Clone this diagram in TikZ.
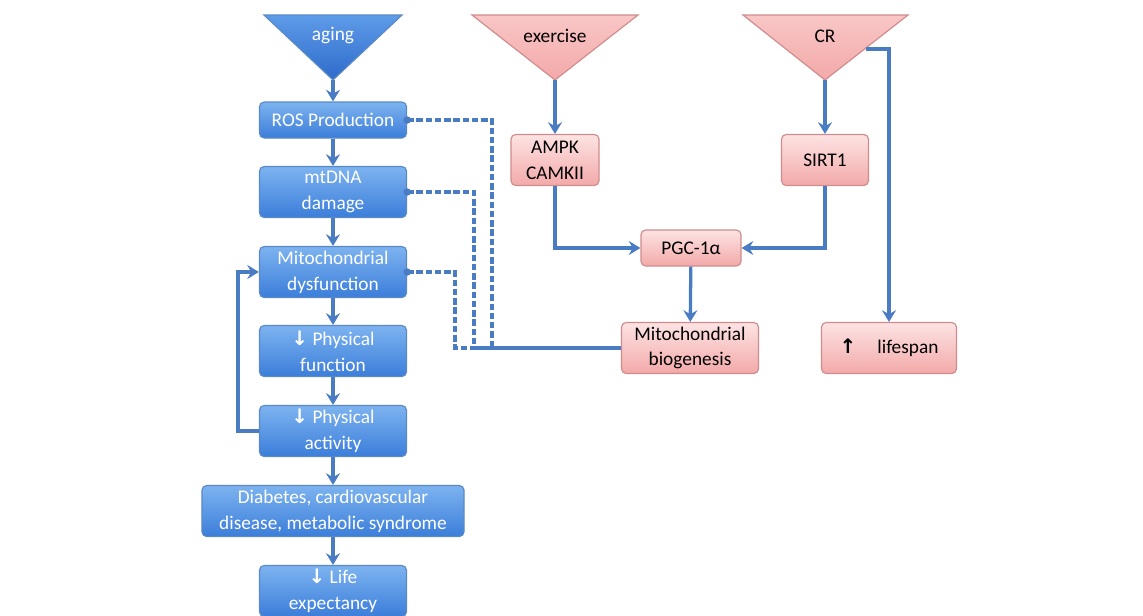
\documentclass[tikz,border=0pt]{standalone}
\usepackage{fontspec}
\setmainfont{Carlito}
\newfontfamily\arrowfont{DejaVu Sans}
\usetikzlibrary{arrows.meta}

\definecolor{bluetop}{HTML}{7DB3EF}
\definecolor{bluebot}{HTML}{3B7DDA}
\definecolor{blueline}{HTML}{5A8AC6}
\definecolor{tritop}{HTML}{5E9BE8}
\definecolor{tribot}{HTML}{2E6BCB}
\definecolor{pinktop}{HTML}{FDE3E3}
\definecolor{pinkbot}{HTML}{F3A9A9}
\definecolor{pinktri}{HTML}{F9C6C6}
\definecolor{pinkline}{HTML}{D08C8C}
\definecolor{linkblue}{HTML}{4A7CC4}

\newcommand{\dnarrow}{{\arrowfont\bfseries\fontsize{17}{22}\selectfont ↓}}
\newcommand{\uparr}{{\arrowfont\bfseries\fontsize{17}{22}\selectfont ↑}}

\begin{document}
\begin{tikzpicture}[x=0.03cm,y=-0.03cm,
    link/.style={draw=linkblue, line width=2.8pt, -{Stealth[length=10pt,width=12pt,inset=3.5pt]}},
    feed/.style={draw=linkblue, line width=2.6pt, dash pattern=on 5.5pt off 2.4pt},
    boxtext/.style={font=\fontsize{16.5}{22}\selectfont}]

        \useasboundingbox (0,0) rectangle (1143,616);

        % triangles
        \coordinate (agingtip) at (333,80);
        \coordinate (extip)    at (555,80);
        \coordinate (crtip)    at (825,80);
        \coordinate (crside)   at (866,49);

        \path[draw=blueline, line width=1pt, top color=tritop, bottom color=tribot]
          (264,15) -- (402,15) -- (agingtip) -- cycle;
        \path[draw=pinkline, line width=1pt, top color=pinktri, bottom color=pinkbot]
          (472,15) -- (638,15) -- (extip) -- cycle;
        \path[draw=pinkline, line width=1pt, top color=pinktri, bottom color=pinkbot]
          (743,15) -- (908,15) -- (crtip) -- cycle;

        \node[boxtext, text=white] (aging)    at (333,36) {aging};
        \node[boxtext]             (exercise) at (555,36) {exercise};
        \node[boxtext]             (cr)       at (825,36) {CR};

        \begin{scope}[every node/.style={rectangle, rounded corners=4pt, draw=blueline,
            line width=1pt, top color=bluetop, bottom color=bluebot, text=white, align=center,
            minimum width=4.41cm, minimum height=1.53cm, inner sep=1pt, boxtext}]
          \node (ros)   at (333,120) [minimum height=1.08cm] {ROS Production};
          \node (mtdna) at (333,192) {mtDNA\\damage};
          \node (dysf)  at (333,272) {Mitochondrial\\dysfunction};
          \node (func)  at (333,351) {\dnarrow{} Physical\\function};
          \node (act)   at (333,431) {\dnarrow{} Physical\\activity};
          \node (dis)   at (333,511) [minimum width=7.86cm] {Diabetes, cardiovascular\\disease, metabolic syndrome};
          \node (life)  at (333,591) {\dnarrow{} Life\\expectancy};
        \end{scope}

        \begin{scope}[every node/.style={rectangle, rounded corners=4pt, draw=pinkline,
            line width=1pt, top color=pinktop, bottom color=pinkbot, text=black, align=center,
            minimum height=1.53cm, inner sep=1pt, boxtext}]
          \node (ampk) at (555,160) [minimum width=2.64cm] {AMPK\\CAMKII};
          \node (sirt) at (825,160) [minimum width=2.61cm] {SIRT1};
          \node (pgc)  at (691,248) [minimum width=3.0cm, minimum height=1.08cm] {PGC-1α};
          \node (bio)  at (690,348) [minimum width=4.11cm] {Mitochondrial\\biogenesis};
          \node (span) at (889,348) [minimum width=4.05cm] {\uparr\hspace{1.1em}lifespan};
        \end{scope}

        % aging cascade
        \draw[link] (agingtip) -- (ros);
        \draw[link] (ros) -- (mtdna);
        \draw[link] (mtdna) -- (dysf);
        \draw[link] (dysf) -- (func);
        \draw[link] (func) -- (act);
        \draw[link] (act) -- (dis);
        \draw[link] (dis) -- (life);
        \draw[link] (act.west) -- ++(-21,0) |- (dysf.west);

        % exercise and CR
        \draw[link] (extip) -- (ampk);
        \draw[link] (ampk.south) |- (pgc.west);
        \draw[link] (crtip) -- (sirt);
        \draw[link] (sirt.south) |- (pgc.east);
        \draw[link] (pgc) -- (bio);
        \draw[link] (crside) -| (span.north);

        % dashed links to biogenesis
        \coordinate (d1) at (492,0);
        \coordinate (d2) at (474,0);
        \coordinate (d3) at (455,0);
        \draw[feed] (ros.east) -| (d1 |- bio.west) -- (bio.west);
        \draw[feed] (mtdna.east) -| (d2 |- bio.west) -- (bio.west);
        \draw[feed] (dysf.east) -| (d3 |- bio.west) -- (bio.west);
        \foreach \n in {ros,mtdna,dysf}
          \fill[linkblue] (\n.east) circle (3.2pt);

      \end{tikzpicture}
\end{document}
